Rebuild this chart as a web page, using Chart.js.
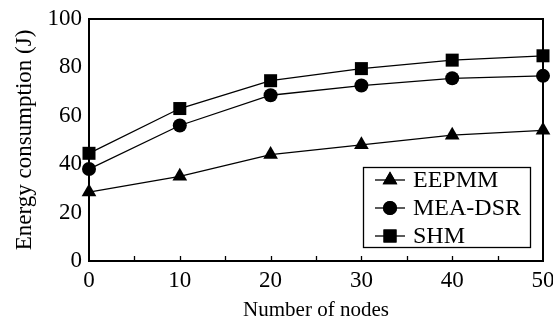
<!DOCTYPE html>
<html><head><meta charset="utf-8">
<script src="https://cdn.jsdelivr.net/npm/chart.js@4/dist/chart.umd.min.js"></script>
<style>html,body{margin:0;padding:0;background:#fff}#wrap{width:553px;height:327px}</style>
</head><body><div id="wrap"><canvas id="c" width="553" height="327"></canvas></div>
<script>
const nodes = [0, 10, 20, 30, 40, 50];
const eepmm = [28.5, 35, 44, 48, 52, 54];
const meaDsr = [38, 56, 68.5, 72.5, 75.5, 76.5];
const shm = [44.5, 63, 74.5, 79.5, 83, 84.8];
const seriesNames = ['EEPMM', 'MEA-DSR', 'SHM'];
const minorTicks = [5, 10, 15, 20, 25, 30, 35, 40, 45];

const FONT = 'Liberation Serif, Times New Roman, serif';
const pts = arr => nodes.map((x, i) => ({x: x, y: arr[i]}));

const styles = [
  {pointStyle: 'triangle', radius: 8.5},
  {pointStyle: 'circle', radius: 7},
  {pointStyle: 'rect', radius: 9.2}
];
const seriesData = [eepmm, meaDsr, shm];

const datasets = seriesNames.map((n, i) => ({
  label: n,
  data: pts(seriesData[i]),
  borderColor: '#000',
  backgroundColor: '#000',
  borderWidth: 1.3,
  pointStyle: styles[i].pointStyle,
  pointRadius: styles[i].radius,
  pointBorderWidth: 0,
  pointBackgroundColor: '#000',
  tension: 0,
  clip: false
}));

function drawMarker(ctx, style, r, x, y) {
  if (Chart.helpers && Chart.helpers.drawPoint) {
    Chart.helpers.drawPoint(ctx, {pointStyle: style, rotation: 0, borderWidth: 0, radius: r}, x, y);
    ctx.fill();
  }
}

const framePlugin = {
  id: 'frame',
  afterDraw(chart) {
    const ctx = chart.ctx, a = chart.chartArea;
    const xs = chart.scales.x;
    ctx.save();
    ctx.strokeStyle = '#000';
    ctx.lineWidth = 2;
    ctx.beginPath();
    ctx.moveTo(a.left, a.top); ctx.lineTo(a.right, a.top); ctx.lineTo(a.right, a.bottom);
    ctx.stroke();
    ctx.lineWidth = 1.3;
    ctx.beginPath();
    minorTicks.forEach(v => {
      const px = Math.round(xs.getPixelForValue(v)) + 0.5;
      ctx.moveTo(px, a.bottom); ctx.lineTo(px, a.bottom - 5);
    });
    ctx.stroke();

    // legend
    const w = 167, h = 80;
    const lx = a.right - 13 - w, ly = a.bottom - 14 - h;
    ctx.fillStyle = '#fff';
    ctx.fillRect(lx, ly, w, h);
    ctx.lineWidth = 1.3;
    ctx.strokeRect(lx + 0.5, ly + 0.5, w, h);
    ctx.font = '24px ' + FONT;
    ctx.textBaseline = 'middle';
    ctx.textAlign = 'left';
    chart.data.datasets.forEach((ds, i) => {
      const cy = ly + 13 + i * 28;
      ctx.strokeStyle = '#000'; ctx.fillStyle = '#000';
      ctx.lineWidth = 1.3;
      ctx.beginPath(); ctx.moveTo(lx + 12, cy); ctx.lineTo(lx + 42, cy); ctx.stroke();
      ctx.beginPath();
      drawMarker(ctx, ds.pointStyle, ds.pointRadius, lx + 27, cy);
      ctx.fillStyle = '#000';
      ctx.fillText(ds.label, lx + 50, cy + 1);
    });
    ctx.restore();
  }
};

new Chart(document.getElementById('c'), {
  type: 'line',
  data: {datasets: datasets},
  options: {
    responsive: false,
    animation: false,
    devicePixelRatio: 1,
    layout: {padding: {left: 0, right: 10, top: 19, bottom: 0}},
    plugins: {legend: {display: false}, tooltip: {enabled: false}},
    scales: {
      x: {
        type: 'linear', min: 0, max: 50,
        ticks: {stepSize: 10, color: '#000', font: {family: FONT, size: 23}, padding: 6},
        grid: {display: false, drawTicks: false},
        border: {display: true, color: '#000', width: 2},
        title: {display: true, text: 'Number of nodes', color: '#000', font: {family: FONT, size: 21}, padding: {top: 6}},
        afterFit(s) { s.height = 66; s.paddingLeft = 0; s.paddingRight = 0; }
      },
      y: {
        min: 0, max: 100,
        ticks: {stepSize: 20, color: '#000', font: {family: FONT, size: 23}, padding: 7},
        grid: {display: false, drawTicks: false},
        border: {display: true, color: '#000', width: 2},
        title: {display: true, text: 'Energy consumption (J)', color: '#000', font: {family: FONT, size: 23}, padding: {top: 11, bottom: 0}},
        afterFit(s) { s.width = 89; s.paddingTop = 0; s.paddingBottom = 0; }
      }
    }
  },
  plugins: [framePlugin]
});
</script>
</body></html>
